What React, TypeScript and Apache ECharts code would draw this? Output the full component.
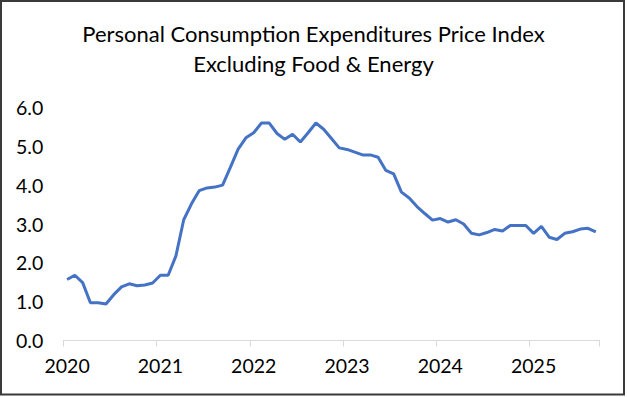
import React, { useEffect, useRef } from "react";
import * as echarts from "echarts";

const years = ["2020", "2021", "2022", "2023", "2024", "2025"];
const monthNames = ["Jan", "Feb", "Mar", "Apr", "May", "Jun", "Jul", "Aug", "Sep", "Oct", "Nov", "Dec"];

const values2020 = [1.57, 1.68, 1.49, 0.97, 0.97, 0.94, 1.18, 1.38, 1.46, 1.41, 1.43, 1.48];
const values2021 = [1.68, 1.68, 2.18, 3.11, 3.52, 3.86, 3.93, 3.95, 4.0, 4.46, 4.93, 5.22];
const values2022 = [5.35, 5.6, 5.6, 5.33, 5.18, 5.31, 5.11, 5.35, 5.6, 5.44, 5.2, 4.96];
const values2023 = [4.92, 4.85, 4.78, 4.78, 4.72, 4.38, 4.29, 3.82, 3.67, 3.45, 3.27, 3.1];
const values2024 = [3.14, 3.05, 3.11, 3.0, 2.76, 2.72, 2.78, 2.86, 2.82, 2.96, 2.96, 2.96];
const values2025 = [2.76, 2.94, 2.66, 2.6, 2.76, 2.8, 2.87, 2.89, 2.8];

const seriesValues = [...values2020, ...values2021, ...values2022, ...values2023, ...values2024, ...values2025];
const categories: string[] = seriesValues.map(
  (_, i) => `${monthNames[i % 12]} ${years[Math.floor(i / 12)]}`
);

const titleLines = ["Personal Consumption Expenditures Price Index", "Excluding Food & Energy"];
const FONT = "Lato, 'Open Sans', sans-serif";

export default function App() {
  const ref = useRef<HTMLDivElement>(null);
  useEffect(() => {
    document.body.style.margin = "0";
    if (!ref.current) return;
    const chart = echarts.init(ref.current, undefined, { renderer: "svg" });
    chart.setOption({
      animation: false,
      backgroundColor: "#ffffff",
      title: {
        text: titleLines.join("\n"),
        left: "center",
        top: 13,
        textStyle: {
          fontFamily: FONT,
          fontSize: 22,
          fontWeight: "normal",
          color: "#000000",
          lineHeight: 30,
        },
      },
      graphic: [
        {
          type: "rect",
          shape: { x: 1, y: 1, width: 623, height: 393.5 },
          style: { fill: "none", stroke: "#3a3a3a", lineWidth: 2 },
          silent: true,
        },
      ],
      grid: {
        left: 63.2,
        right: 27.3,
        top: 107.5,
        bottom: 56.5,
        containLabel: false,
      },
      xAxis: {
        type: "category",
        data: categories,
        boundaryGap: true,
        axisLine: { show: true, lineStyle: { color: "#d9d9d9", width: 1 } },
        axisTick: { show: true, interval: 11, length: 6, lineStyle: { color: "#d9d9d9" } },
        axisLabel: {
          interval: 11,
          margin: 15,
          fontFamily: FONT,
          fontSize: 19.5,
          color: "#000000",
          formatter: (v: string) => v.split(" ")[1],
        },
        splitLine: { show: false },
      },
      yAxis: {
        type: "value",
        min: 0,
        max: 6,
        interval: 1,
        axisLine: { show: false },
        axisTick: { show: false },
        splitLine: { show: false },
        axisLabel: {
          margin: 20,
          fontFamily: FONT,
          fontSize: 19.5,
          color: "#000000",
          formatter: (v: number) => v.toFixed(1),
        },
      },
      series: [
        {
          type: "line",
          data: seriesValues,
          showSymbol: false,
          symbol: "none",
          lineStyle: { color: "#4472C4", width: 3 },
          itemStyle: { color: "#4472C4" },
        },
      ],
    });
    return () => chart.dispose();
  }, []);
  return <div ref={ref} style={{ width: 627, height: 397 }} />;
}
